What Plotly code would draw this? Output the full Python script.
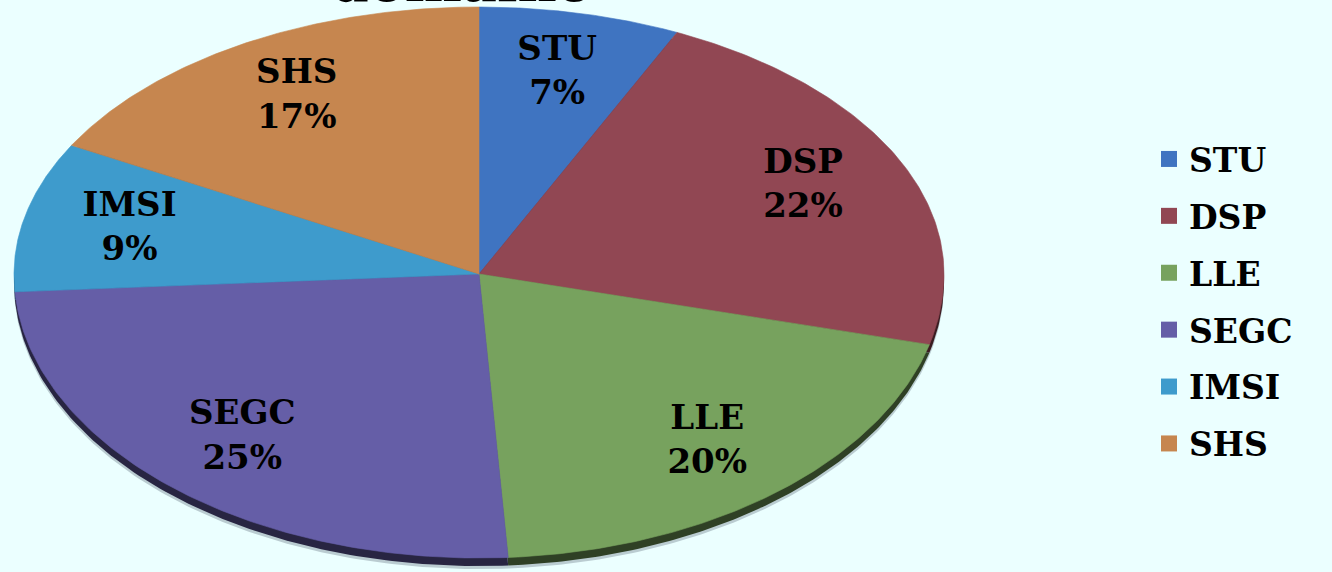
import numpy as np
import plotly.graph_objects as go

# ---- data ----
categories = ["STU", "DSP", "LLE", "SEGC", "IMSI", "SHS"]
values = [7, 22, 20, 25, 9, 17]
colors = ["#3F74C1", "#914753", "#77A25E", "#655EA7", "#3E9BCC", "#C6864F"]
title_text = "domaine"

# ---- geometry of the tilted (elliptical) pie, in pixel-like axis units ----
W, H = 1332, 572
cx, cy = 479, 274
a = 465          # horizontal radius
b_top = 267      # vertical radius, upper half (perspective)
b_bot = 284      # vertical radius, lower half
depth = 8        # thickness of the 3D side wall
label_r = 0.77
bg = "#EBFFFF"


def darken(hexc, f):
    hexc = hexc.lstrip("#")
    r, g, b = (int(hexc[i:i + 2], 16) for i in (0, 2, 4))
    return "rgb(%d,%d,%d)" % (r * f, g * f, b * f)


def ell(theta, r=1.0, dy=0.0):
    c = np.cos(theta)
    bb = np.where(c > 0, b_top, b_bot)
    return cx + a * r * np.sin(theta), cy + dy - bb * r * c


total = float(sum(values))
fracs = np.array(values) / total
ends = np.cumsum(fracs)
starts = ends - fracs

fig = go.Figure()


def add_wedges(dy, cols, opacity=1.0):
    for cat, s, e, col in zip(categories, starts, ends, cols):
        th = np.linspace(s * 2 * np.pi, e * 2 * np.pi, 120)
        xs, ys = ell(th, dy=dy)
        fig.add_trace(go.Scatter(
            x=np.concatenate([[cx], xs, [cx]]),
            y=np.concatenate([[cy + dy], ys, [cy + dy]]),
            mode="lines", fill="toself", fillcolor=col,
            line=dict(width=0.6 if dy == 0 else 0, color=col),
            opacity=opacity, showlegend=False, hoverinfo="skip"))


# soft shadow, side wall, then top face
add_wedges(depth + 3, ["rgba(40,50,70,0.25)"] * len(categories))
add_wedges(depth, [darken(c, 0.4) for c in colors])
add_wedges(0, colors)

# data labels
mids = (starts + ends) / 2 * 2 * np.pi
lx, ly = ell(mids, r=label_r)
pcts = [f"{round(f * 100)}%" for f in fracs]
fig.add_trace(go.Scatter(
    x=lx, y=ly, mode="text",
    text=[f"{c}<br>{p}" for c, p in zip(categories, pcts)],
    textfont=dict(family="DejaVu Serif", size=34, color="black", weight="bold"),
    showlegend=False, hoverinfo="skip"))

# legend entries
for i, (cat, col) in enumerate(zip(categories, colors)):
    fig.add_trace(go.Scatter(
        x=[None], y=[None], mode="markers", name=cat, legendgroup=cat,
        marker=dict(symbol="square", size=16, color=col)))

fig.add_annotation(
    text=title_text, x=461, y=4, xref="x", yref="y",
    xanchor="center", yanchor="bottom", yshift=-12, showarrow=False,
    font=dict(family="DejaVu Serif", size=54, color="black", weight="bold"))

fig.update_layout(
    width=W, height=H, margin=dict(l=0, r=0, t=0, b=0),
    paper_bgcolor=bg, plot_bgcolor=bg,
    xaxis=dict(range=[0, W], visible=False, fixedrange=True),
    yaxis=dict(range=[H, 0], visible=False, fixedrange=True),
    legend=dict(x=1149 / W, y=1 - 131 / H, xanchor="left", yanchor="top",
                font=dict(family="DejaVu Serif", size=33, color="black", weight="bold"),
                tracegroupgap=11, bgcolor="rgba(0,0,0,0)"),
    showlegend=True,
)

fig.write_html(
    "out.html",
    config={"displayModeBar": False},
    post_script="document.body.style.margin='0';document.body.style.background='%s';" % bg,
)
